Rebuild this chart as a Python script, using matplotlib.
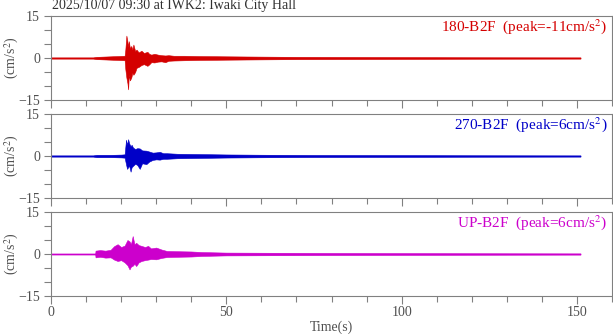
import matplotlib
matplotlib.use("Agg")
import matplotlib.pyplot as plt
from matplotlib.ticker import MultipleLocator

plt.rcParams['font.family'] = ['Liberation Serif', 'DejaVu Serif']
plt.rcParams['mathtext.fontset'] = 'stix'

title = "2025/10/07 09:30 at IWK2: Iwaki City Hall"
channels = ["180-B2F", "270-B2F", "UP-B2F"]
peaks = [-11, 6, 6]
colors = ["#d40000", "#0000c8", "#cc00cc"]

# envelope of each trace (time s, upper and lower value cm/s2)
t_180 = [0, 12, 13, 17, 19, 21, 21.2, 21.5, 21.8, 22.0, 22.2, 22.5, 22.9, 23.2, 23.5, 24.0, 24.4,
         25.0, 25.8, 26.5, 27.5, 28.0, 28.6, 29.5, 30.5, 31.5, 32.6, 33.5, 35, 38, 42, 50, 59, 70,
         85, 100, 120, 151]
up_180 = [0.2, 0.2, 0.4, 0.6, 0.7, 0.8, 3, 8, 6, 4, 6, 3.5, 4.3, 3, 4.8, 2.5, 3, 2, 2.6, 1.8, 2.2,
          1.5, 1.2, 1.5, 1.2, 1.0, 0.9, 1.0, 0.8, 0.8, 0.7, 0.6, 0.5, 0.4, 0.35, 0.3, 0.25, 0.2]
lo_180 = [-0.2, -0.2, -0.4, -0.6, -0.7, -0.8, -4, -7, -9, -11.2, -6, -8, -7, -5.3, -6, -5, -3.5,
          -3.2, -2.5, -2.2, -2.8, -2.3, -1.5, -1.6, -1.3, -1.2, -1.5, -1.0, -0.9, -0.8, -0.7, -0.6,
          -0.5, -0.4, -0.35, -0.3, -0.25, -0.2]

t_270 = [0, 12, 13, 17, 20, 21, 21.4, 21.7, 22.0, 22.3, 22.7, 23.0, 23.4, 24.0, 24.6, 25.3, 26.0,
         27.2, 28.0, 29.0, 30.0, 31.0, 32.0, 33, 36, 42, 50, 60, 75, 100, 120, 151]
up_270 = [0.2, 0.2, 0.4, 0.4, 0.5, 0.6, 5.8, 4, 6, 4.5, 3.5, 4, 3, 2.5, 2.8, 2.7, 2, 1.9, 1.6, 1.2,
          1.3, 1.5, 1.0, 1.0, 0.8, 0.7, 0.55, 0.45, 0.35, 0.3, 0.25, 0.2]
lo_270 = [-0.2, -0.2, -0.4, -0.4, -0.5, -0.6, -3, -4.6, -4, -3.5, -5.6, -4, -3.5, -2.8, -3.2, -4.6,
          -2.6, -2.9, -2, -1.4, -1.2, -1.3, -1.0, -1.0, -0.8, -0.7, -0.55, -0.45, -0.35, -0.3,
          -0.25, -0.2]

t_up = [0, 12.6, 12.7, 14, 15.5, 17, 18, 19, 20, 21, 21.8, 22.4, 22.8, 23.3, 23.8, 24.3, 25.0, 25.8,
        26.8, 27.7, 28.5, 30, 31.5, 33, 36, 40, 43, 50, 60, 80, 100, 151]
up_up = [0.15, 0.15, 1.2, 1.4, 1.2, 1.5, 2.8, 3.5, 2.5, 3, 5, 4.5, 3.5, 6.4, 3.5, 4, 3.2, 2.9, 2.5,
         2.9, 2.0, 2.3, 1.6, 1.1, 1.0, 0.9, 0.7, 0.5, 0.45, 0.35, 0.3, 0.2]
lo_up = [-0.15, -0.15, -1.2, -1.0, -1.3, -1.2, -2.0, -2.5, -2.2, -3, -4, -5.5, -4.5, -4.2, -3.5,
         -4.3, -3.0, -2.5, -2.2, -2.0, -1.8, -1.9, -1.4, -1.1, -1.0, -0.9, -0.7, -0.5, -0.45, -0.35,
         -0.3, -0.2]

traces = [(t_180, up_180, lo_180), (t_270, up_270, lo_270), (t_up, up_up, lo_up)]

W, H = 613, 334
fig = plt.figure(figsize=(W / 100, H / 100), dpi=100)
left, width = 51 / W, 561 / W
tops = [16, 114, 212]
gray = "#808080"
txt = "#505050"

for i, (tt, up, lo) in enumerate(traces):
    ax = fig.add_axes([left, 1 - (tops[i] + 84) / H, width, 84 / H])
    c = colors[i]
    ax.fill_between(tt, lo, up, color=c, lw=0.4)
    ax.plot([tt[0], tt[-1]], [0, 0], color=c, lw=1.0)
    ax.set_xlim(0, 160)
    ax.set_ylim(-15, 15)
    ax.set_yticks([-15, 0, 15])
    ax.yaxis.set_minor_locator(MultipleLocator(5))
    ax.xaxis.set_major_locator(MultipleLocator(50))
    ax.xaxis.set_minor_locator(MultipleLocator(10))
    ax.tick_params(which='both', direction='out', colors=gray, labelcolor=txt, labelsize=10, width=0.8)
    ax.tick_params(which='major', length=6)
    ax.tick_params(which='minor', length=4)
    ax.tick_params(axis='y', which='both', length=5, pad=3)
    ax.tick_params(axis='x', which='both', pad=1.5)
    for s in ax.spines.values():
        s.set_color(gray)
        s.set_linewidth(0.8)
    ax.set_ylabel("(cm/s$^2$)", color=txt, fontsize=10, va='center')
    ax.yaxis.set_label_coords(-0.07, 0.5)
    ax.text(0.992, 0.985, "%s  (peak=%dcm/s$^2$)" % (channels[i], peaks[i]), color=c,
            fontsize=11, ha='right', va='top', transform=ax.transAxes)
    if i < 2:
        ax.tick_params(axis='x', labelbottom=False)
    else:
        ax.set_xlabel("Time(s)", color=txt, fontsize=10, va='center')
        ax.xaxis.set_label_coords(0.5, -0.37)

fig.text(52 / W, 1 - 8.5 / H, title, color="#303030", fontsize=10, ha='left', va='baseline')

fig.savefig("out.png", dpi=100)
